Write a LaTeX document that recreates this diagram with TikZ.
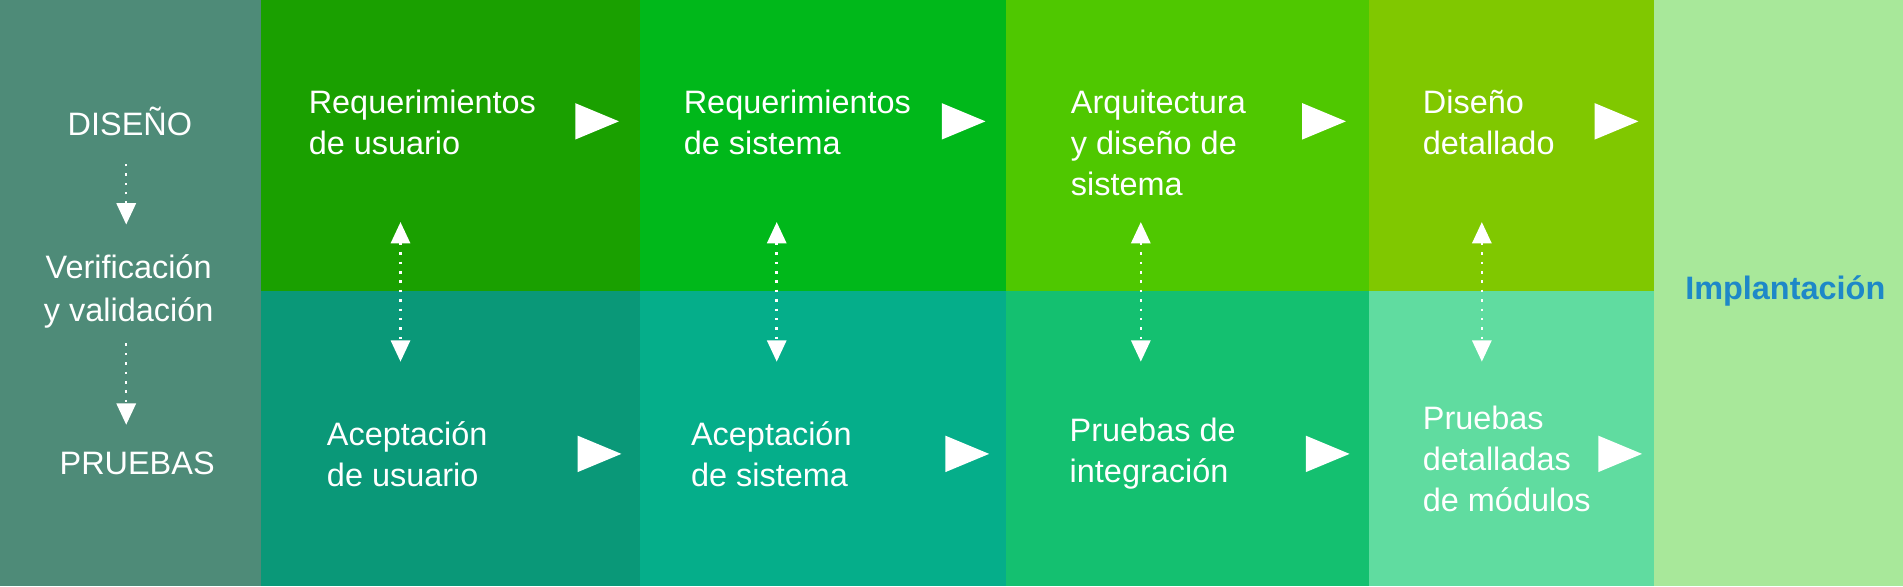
\documentclass[tikz,border=0pt]{standalone}
\usepackage{fontspec}
\setmainfont{Liberation Sans}
\usetikzlibrary{arrows.meta}
\definecolor{leftcol}{HTML}{4E8B78}
\definecolor{topA}{HTML}{1AA000}
\definecolor{topB}{HTML}{00B81A}
\definecolor{topC}{HTML}{4FC800}
\definecolor{topD}{HTML}{80C800}
\definecolor{botA}{HTML}{0A9878}
\definecolor{botB}{HTML}{05AE8A}
\definecolor{botC}{HTML}{14C070}
\definecolor{botD}{HTML}{60DCA0}
\definecolor{implcol}{HTML}{A8E89A}
\definecolor{impltext}{HTML}{1E88C8}
\tikzset{
  phase/.style={anchor=west, align=left, text=white, font=\fontsize{7.6pt}{9.6pt}\selectfont},
  side/.style={align=center, text=white, font=\fontsize{7.6pt}{10.2pt}\selectfont},
  link/.style={white, line width=0.6pt, dash pattern=on 0.6pt off 1.6pt, {Triangle[width=4.5pt,length=5pt]}-{Triangle[width=4.5pt,length=5pt]}},
}
\newcommand{\playtip}[2]{\fill[white] (#1-18,#2-15) -- (#1+18,#2) -- (#1-18,#2+15) -- cycle;}
\begin{document}
\begin{tikzpicture}[x=0.01cm,y=-0.01cm]
		\useasboundingbox (0,0) rectangle (1568,483);
		% fondos
		\fill[leftcol] (0,0) rectangle (215,483);
		\fill[topA] (215,0) rectangle (527,240);
		\fill[topB] (527,0) rectangle (829,240);
		\fill[topC] (829,0) rectangle (1128,240);
		\fill[topD] (1128,0) rectangle (1363,240);
		\fill[botA] (215,240) rectangle (527,483);
		\fill[botB] (527,240) rectangle (829,483);
		\fill[botC] (829,240) rectangle (1128,483);
		\fill[botD] (1128,240) rectangle (1363,483);
		\fill[implcol] (1363,0) rectangle (1568,483);

		% columna izquierda
		\node (diseno) [side] at (107,100) {DISEÑO};
		\node (vv) [side] at (106,240) {Verificación\\y validación};
		\node (pruebas) [side] at (113,382) {PRUEBAS};
		\draw[link, {Triangle[width=4.5pt,length=5pt]}-] (vv.north -| diseno) ++(-3,-12) -- (104,130);
		\draw[link, -{Triangle[width=4.5pt,length=5pt]}] (104,283) -- (104,350);

		% diseno
		\node (ru) [phase] at (242,101) {Requerimientos\\de usuario};
		\node (rs) [phase] at (551,101) {Requerimientos\\ de sistema};
		\node (ad) [phase] at (870,118) {Arquitectura\\y diseño de\\sistema};
		\node (dd) [phase] at (1160,101) {Diseño\\detallado};
		% pruebas
		\node (au) [phase] at (257,374) {Aceptación\\de usuario};
		\node (as) [phase] at (557,374) {Aceptación\\de sistema};
		\node (pi) [phase] at (869,374) {Pruebas de\\integración};
		\node (pd) [phase] at (1160,378) {Pruebas\\detalladas\\de módulos};

		\node (impl) [text=impltext, font=\fontsize{7.6pt}{9.6pt}\selectfont\bfseries] at (1471,240) {Implantación};

		% flechas
		\playtip{492}{100} \playtip{794}{100} \playtip{1091}{100} \playtip{1332}{100}
		\playtip{494}{374} \playtip{797}{374} \playtip{1094}{374} \playtip{1335}{374}

		\foreach \x in {330,640,940,1221}
			\draw[link] (\x,183) -- (\x,298);
\end{tikzpicture}
\end{document}
